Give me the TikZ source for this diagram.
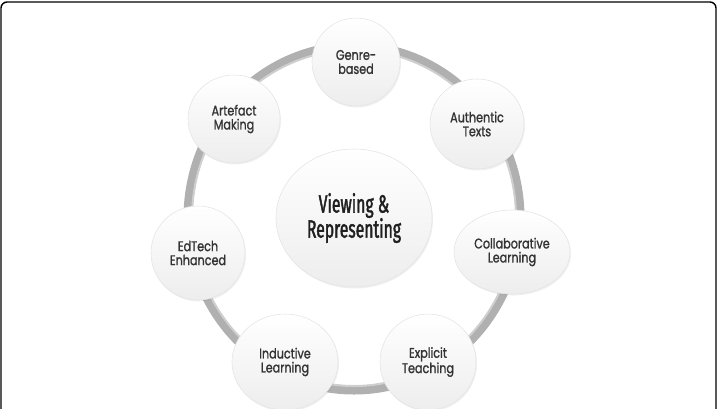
\documentclass[tikz,border=0pt]{standalone}
\usepackage{fontspec}
\setmainfont{Poppins}[FakeStretch=0.8, FakeBold=1.2]
\newfontfamily\hubfont{Fira Sans}[FakeStretch=0.63, FakeBold=1.6]
\usetikzlibrary{shapes.geometric,shadows}

\begin{document}
\begin{tikzpicture}[x=1pt,y=-1pt,
	petal/.style={ellipse, draw=gray!20, line width=0.6pt, top color=white, bottom color=gray!14,
		drop shadow={opacity=0.12, shadow xshift=1pt, shadow yshift=-1.5pt},
		text=black!80, font=\fontsize{14}{14}\selectfont, align=center, inner sep=0pt},
	hub/.style={petal, text=black!88, font=\hubfont\fontsize{25}{25}\selectfont},
	ring/.style={draw=gray!62, line width=9pt}]
	\clip (0,0) rectangle (719,408);
	\draw[line width=1.4pt, rounded corners=6pt] (1,2) rectangle (716,430);
	\coordinate (mid) at (354,218);
	\draw[ring] (mid) ellipse [x radius=166pt, y radius=172pt];
	\draw[draw=gray!38, line width=2pt] (mid) ellipse [x radius=162pt, y radius=168pt];
	\node[hub, minimum width=156pt, minimum height=138pt] (hub) at (mid) {Viewing \&\\Representing};
	\node[petal, minimum width=88pt, minimum height=88pt] (genre) at (356,62) {Genre-\\based};
	\node[petal, minimum width=94pt, minimum height=90pt] (authentic) at (477,124) {Authentic\\Texts};
	\node[petal, minimum width=116pt, minimum height=84pt] (collab) at (512,252) {Collaborative\\Learning};
	\node[petal, minimum width=96pt, minimum height=96pt] (explicit) at (428,362) {Explicit\\Teaching};
	\node[petal, minimum width=106pt, minimum height=96pt] (inductive) at (285,362) {Inductive\\Learning};
	\node[petal, minimum width=94pt, minimum height=94pt] (edtech) at (198,253) {EdTech\\Enhanced};
	\node[petal, minimum width=92pt, minimum height=88pt] (artefact) at (234,119) {Artefact\\Making};
\end{tikzpicture}
\end{document}
